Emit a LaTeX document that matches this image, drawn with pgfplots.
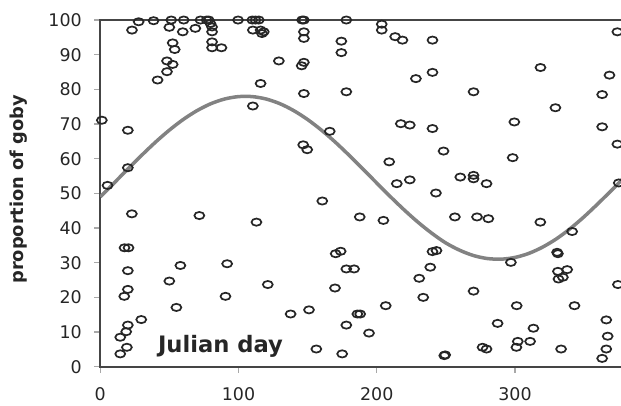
\documentclass[border=0pt]{standalone}
\usepackage{pgfplots}
\pgfplotsset{compat=1.18}
\usepackage{fontspec}
\setmainfont{DejaVu Sans}
\usetikzlibrary{calc}

\definecolor{axisdark}{HTML}{454545}
\definecolor{ticklight}{HTML}{A8A8A8}
\definecolor{curvegray}{HTML}{828282}

% wide open circle, as in the original spreadsheet chart
\pgfdeclareplotmark{wideo}{%
  \pgfpathellipse{\pgfpointorigin}{\pgfqpoint{1.1\pgfplotmarksize}{0pt}}{\pgfqpoint{0pt}{0.8\pgfplotmarksize}}%
  \pgfusepathqstroke}

% goby observations: Julian day, proportion of goby
\pgfplotstableread{
day prop
23 97.1
27.8 99.5
38.6 99.8
51.4 100
50 97.9
60.4 100
59.7 96.6
68.8 97.6
72.5 100
77 100
78.5 100
79.7 99
80.9 98
80.9 96.6
80.9 93.7
80.9 92
87.7 92
52.4 93.4
53.9 91.5
48.3 88.2
52.4 87.2
48.3 85.1
41.5 82.7
99.7 100
110 100
112.3 100
114.7 100
110.4 97.1
116 97.1
117 96.1
118.3 96.6
116 81.7
110.4 75.2
1.2 71.1
20 68.2
146 100
147.3 100
178 100
203.6 98.8
203.6 97.1
213.3 95.2
218.6 94.2
240.3 94.2
147.3 96.6
147.3 94.7
174.4 93.9
174.4 90.6
129.2 88.2
147.3 87.8
145.7 86.8
228.3 83.1
240.3 84.9
147.3 78.8
178 79.3
217.4 70.1
223.9 69.7
240.3 68.7
166 67.9
374 96.6
318.4 86.3
368.3 84.1
270 79.3
363 78.5
329.2 74.7
299.5 70.6
363 69.2
20 57.4
5.3 52.3
22.9 44.1
71.7 43.6
113 41.7
17.6 34.3
20.5 34.3
146.8 64
149.7 62.6
209 59.1
214.5 52.8
223.9 53.9
242.8 50.1
248.3 62.2
160.6 47.8
187.7 43.2
204.8 42.2
173.9 33.3
170.3 32.6
240.3 33.2
243.2 33.5
298.3 60.3
374 64.2
260.4 54.7
270 55.2
270 54.2
279.4 52.8
375 53
256.5 43.2
272.5 43.2
280.7 42.7
318.3 41.7
341.3 39
330.4 33
20 27.7
58 29.2
91.8 29.7
50 24.7
121.2 23.7
20 22.3
17.4 20.3
90.6 20.3
55.1 17.1
29.7 13.6
20 12
18.8 10.1
14.5 8.5
19.3 5.6
14.5 3.7
178 28.2
183.6 28.2
169.8 22.7
137.7 15.2
151 16.4
186 15.2
188 15.2
178 12
194.4 9.7
206.5 17.6
156.3 5.1
175 3.7
230.7 25.5
238.7 28.7
233.6 20
248.8 3.2
297 30.1
331 32.6
331 27.5
337.7 28
334.6 25.8
331.4 25.3
374.4 23.7
270 21.8
301.2 17.6
343 17.6
287.4 12.5
313.3 11.1
366 13.5
367 8.8
276.5 5.6
279.4 5.1
302 7.3
301 5.6
310.9 7.3
333.3 5.1
366 5.1
363 2.4
249.5 3.4
}\gobydata

% fitted seasonal curve
\pgfplotstableread{
day prop
0 48.99
10 52.98
20 57.02
30 60.99
40 64.78
50 68.24
60 71.30
70 73.86
80 75.86
90 77.22
100 77.91
110 77.91
120 77.22
130 75.86
140 73.86
150 71.30
160 68.24
170 64.78
180 60.99
190 57.02
200 52.98
210 48.99
220 45.17
230 41.62
240 38.44
250 35.68
260 33.59
270 32.06
280 31.20
290 31.02
300 31.52
310 32.69
320 34.51
330 36.90
340 39.86
350 43.28
360 47.04
370 50.98
380 55.01
}\fitdata

\begin{document}
\begin{tikzpicture}
\begin{axis}[
    scale only axis,
    width=260.5pt,
    height=173pt,
    xmin=0, xmax=377.5,
    ymin=0, ymax=100,
    xtick={0,100,200,300},
    ytick={0,10,...,100},
    xtick pos=bottom,
    ytick pos=left,
    tick align=outside,
    major tick length=3pt,
    tick style={ticklight, line width=0.6pt},
    axis line style={axisdark, line width=1pt},
    ticklabel style={font=\fontsize{8.7}{10}\selectfont, text=black!85, inner sep=0pt},
    /pgf/number format/assume math mode=true,
    xticklabel style={yshift=-7.3pt},
    yticklabel style={xshift=-6pt},
    ylabel={proportion of goby},
    ylabel style={at={(axis description cs:-0.1555,0.512)}, anchor=center,
        font=\bfseries\fontsize{8.9}{10}\selectfont, text=black!85, inner sep=0pt},
    clip mode=individual,
]
\addplot[curvegray, line width=1.75pt, smooth] table[x=day, y=prop] {\fitdata};
\addplot[only marks, mark=wideo, mark size=2.25pt,
    mark options={line width=0.85pt, black!85}]
    table[x=day, y=prop] {\gobydata};
\node[anchor=base, font=\bfseries\fontsize{11.3}{12}\selectfont, text=black!85]
    at (axis cs:87,4.0) {Julian day};
\coordinate (ll) at (rel axis cs:0,0);
\coordinate (ur) at (rel axis cs:1,1);
\end{axis}
\pgfresetboundingbox
\path[use as bounding box] ($(ll)+(-50pt,-19.5pt)$) rectangle ($(ur)+(-0.6pt,10pt)$);
\end{tikzpicture}
\end{document}
